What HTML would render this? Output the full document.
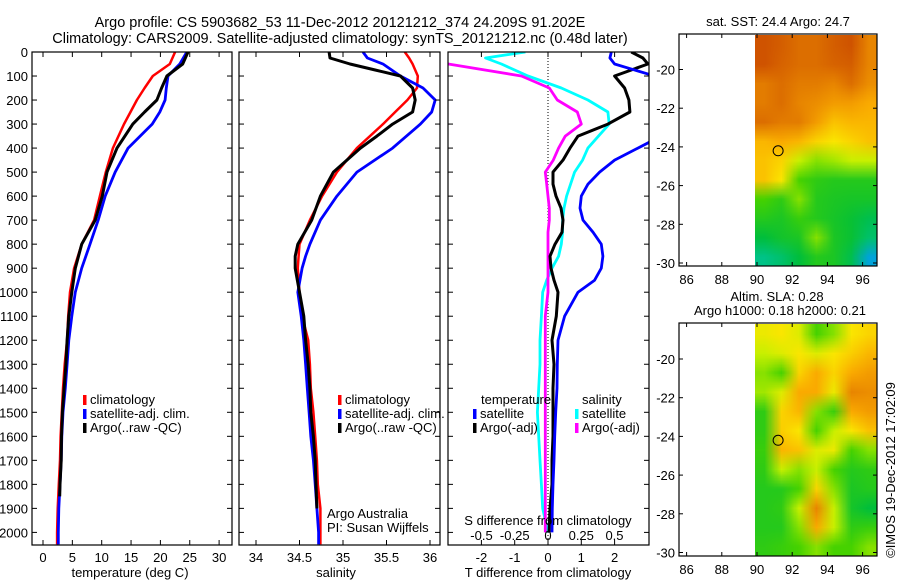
<!DOCTYPE html>
<html><head><meta charset="utf-8">
<style>
html,body{margin:0;padding:0;background:#fff;}
svg{display:block;font-family:"Liberation Sans",Arial,sans-serif;}
text{fill:#000;}
</style></head>
<body>
<svg id="fig" width="900" height="580" viewBox="0 0 900 580">
<text x="340" y="27" font-size="14.5" text-anchor="middle">Argo profile: CS 5903682_53 11-Dec-2012 20121212_374 24.209S 91.202E</text>
<text x="340" y="43" font-size="14.5" text-anchor="middle">Climatology: CARS2009. Satellite-adjusted climatology: synTS_20121212.nc (0.48d later)</text>
<g id="g1"></g>
<g id="g2"></g>
<g id="g3"></g>
<g id="gm"></g>
<text transform="translate(895,470) rotate(-90)" font-size="13" text-anchor="middle">©IMOS 19-Dec-2012 17:02:09</text>
</svg>
<script>
// ---- Temperature profile data ----
const tDepth = [0,50,100,150,200,250,300,400,500,600,700,800,900,1000,1100,1200,1300,1400,1500,1600,1700,1800,1900,2000,2050];
const tClim  = [22.5,21.6,18.7,17.3,16,14.9,13.8,11.9,10.7,9.7,8.7,6.6,5.3,4.6,4.3,4.1,3.7,3.4,3.2,3.0,2.9,2.7,2.5,2.4,2.4];
const tSat   = [24.5,23.3,21.3,21,20.8,19.9,18.6,14.5,12.3,10.6,9.4,8,6.6,5.5,4.9,4.4,4.1,3.8,3.4,3.2,3.1,2.9,2.7,2.6,2.6];
const tArgoDepth = [0,50,100,150,200,250,300,400,500,600,700,800,900,1000,1100,1200,1300,1400,1500,1600,1700,1800,1850];
const tArgo  = [24.7,23.8,21.1,20.2,19.4,17.3,15.3,12.6,10.9,10.1,8.9,6.6,5.5,4.9,4.4,4.1,3.9,3.6,3.3,3.15,3.1,2.9,2.85];
// ---- Salinity profile data ----
const sDepth = [0,25,50,75,100,150,200,250,300,350,400,500,600,700,800,850,900,1000,1100,1200,1300,1400,1500,1600,1700,1800,1900,2000,2050];
const sClim  = [35.71,35.76,35.8,35.83,35.86,35.85,35.74,35.6,35.46,35.31,35.16,34.93,34.76,34.62,34.5,34.49,34.48,34.5,34.53,34.6,34.62,34.63,34.66,34.68,34.7,34.71,34.74,34.74,34.74];
const sSat   = [35.23,35.28,35.46,35.56,35.66,35.92,36.06,36.02,35.89,35.73,35.57,35.16,34.93,34.74,34.62,34.57,34.53,34.48,34.52,34.55,34.57,34.59,34.61,34.63,34.66,34.68,34.7,34.72,34.72];
const sArgoDepth = [0,25,50,75,100,150,200,250,300,350,400,500,600,700,800,850,900,1000,1100,1200,1300,1400,1500,1600,1700,1800,1900];
const sArgo  = [34.84,34.85,35.08,35.37,35.66,35.8,35.83,35.8,35.57,35.39,35.2,34.89,34.74,34.64,34.48,34.45,34.45,34.5,34.55,34.57,34.6,34.62,34.63,34.66,34.68,34.69,34.7];
// ---- Difference data ----
const dDepth = [0,25,50,100,150,200,250,300,350,400,450,500,550,600,650,700,750,800,850,900,950,1000,1100,1200,1300,1400,1500,1600,1700,1800,1900,2000];
const dTSat  = [1.9,1.86,2.0,3.2,4,4,4,4,3.4,2.7,2.0,1.55,1.2,1.0,0.96,1.05,1.35,1.6,1.65,1.6,1.4,0.9,0.5,0.3,0.28,0.27,0.23,0.2,0.18,0.15,0.13,0.12];
const dTArgo = [2.5,2.85,3.0,2.0,2.3,2.43,2.46,1.8,0.9,0.66,0.45,0.15,0.15,0.24,0.39,0.45,0.42,0.21,0.06,0.09,0.18,0.3,0.25,0.12,0.18,0.15,0.15,0.15,0.12,0.12,0.06,0.03];
const dSSat  = [-0.17,-0.47,-0.35,-0.15,0.1,0.3,0.45,0.46,0.38,0.3,0.26,0.2,0.17,0.14,0.12,0.11,0.11,0.1,0.08,0.03,-0.01,-0.04,-0.05,-0.06,-0.06,-0.07,-0.08,-0.07,-0.06,-0.05,-0.04,0.0];
const dSArgo = [-0.9,-0.8,-0.75,-0.2,0.01,0.07,0.22,0.25,0.13,0.08,0.04,-0.02,-0.01,0,0.01,0.01,0,0,0,0,0,0,-0.02,-0.02,-0.02,-0.02,-0.02,-0.02,-0.02,-0.02,-0.02,-0.02];
const depthTicks = [0,100,200,300,400,500,600,700,800,900,1000,1100,1200,1300,1400,1500,1600,1700,1800,1900,2000];
const tTicks = [0,5,10,15,20,25,30];
const sTicks = [34,34.5,35,35.5,36];
const dtTicks = [-2,-1,0,1,2];
const dsTicks = [-0.5,-0.25,0,0.25,0.5];
const dsTickLabels = ["-0.5","-0.25","0","0.25","0.5"];
// ---- Map grids (colour index 0..1), rows north->south, cols 90..97E ----
const sstGrid = [
[0.9,0.88,0.85,0.85,0.88,0.9,0.8],
[0.9,0.87,0.85,0.85,0.87,0.88,0.8],
[0.82,0.85,0.82,0.82,0.8,0.85,0.78],
[0.82,0.85,0.8,0.78,0.75,0.75,0.72],
[0.85,0.82,0.82,0.75,0.68,0.7,0.7],
[0.7,0.72,0.7,0.65,0.62,0.65,0.68],
[0.68,0.65,0.55,0.5,0.52,0.55,0.55],
[0.68,0.62,0.45,0.4,0.38,0.38,0.38],
[0.45,0.4,0.5,0.38,0.36,0.35,0.35],
[0.38,0.36,0.42,0.38,0.35,0.32,0.28],
[0.3,0.34,0.36,0.5,0.36,0.32,0.25],
[0.22,0.25,0.3,0.38,0.36,0.28,0.1]];
const slaGrid = [
[0.6,0.62,0.58,0.45,0.5,0.62,0.65],
[0.55,0.58,0.62,0.58,0.62,0.66,0.7],
[0.5,0.45,0.65,0.72,0.65,0.72,0.75],
[0.52,0.58,0.72,0.72,0.6,0.8,0.78],
[0.4,0.65,0.7,0.5,0.42,0.72,0.75],
[0.4,0.66,0.62,0.45,0.55,0.62,0.68],
[0.42,0.7,0.68,0.58,0.6,0.45,0.5],
[0.4,0.55,0.5,0.55,0.45,0.38,0.4],
[0.38,0.38,0.45,0.65,0.5,0.36,0.38],
[0.38,0.4,0.55,0.8,0.55,0.35,0.3],
[0.38,0.38,0.5,0.72,0.55,0.4,0.42],
[0.4,0.42,0.45,0.5,0.45,0.45,0.5]];
const lonTicks = [86,88,90,92,94,96];
const latTicks = [-20,-22,-24,-26,-28,-30];
const argoLon = 91.2, argoLat = -24.2;

const NS="http://www.w3.org/2000/svg";
function mk(tag,attrs,parent){const e=document.createElementNS(NS,tag);for(const k in attrs)e.setAttribute(k,attrs[k]);parent.appendChild(e);return e;}
const y=d=>52+d*0.2402;
const TOP=52,BOT=545;

function frame(g,x0,x1,labels){
  const r=mk('rect',{x:x0,y:TOP,width:x1-x0,height:BOT-TOP,fill:'none',stroke:'#000','stroke-width':1.2},g);
  
  
  depthTicks.forEach(d=>{
    mk('line',{x1:x0,x2:x0+5,y1:y(d),y2:y(d),stroke:'#000'},g);
    mk('line',{x1:x1,x2:x1-5,y1:y(d),y2:y(d),stroke:'#000'},g);
    if(labels){const t=mk('text',{x:x0-4,y:y(d)+5,'font-size':13,'text-anchor':'end'},g);t.textContent=d;
      
      }
  });
}
function xTicks(g,vals,fx,ly,labs){
  vals.forEach((v,i)=>{const x=fx(v);
    mk('line',{x1:x,x2:x,y1:BOT,y2:BOT-5,stroke:'#000'},g);
    mk('line',{x1:x,x2:x,y1:TOP,y2:TOP+5,stroke:'#000'},g);
    const t=mk('text',{x:x,y:ly,'font-size':13,'text-anchor':'middle'},g);t.textContent=labs?labs[i]:v;
    
    });
}
function line(g,depths,vals,fx,color,w,name,clip){
  const p=depths.map((d,i)=>(i?'L':'M')+fx(vals[i]).toFixed(1)+','+y(d).toFixed(1)).join('');
  const e=mk('path',{d:p,fill:'none',stroke:color,'stroke-width':w,'stroke-linejoin':'round'},g);
  if(clip)e.setAttribute('clip-path','url(#'+clip+')');
  
  
}
function txt(g,x,yy,s,name,anchor,size){const t=mk('text',{x:x,y:yy,'font-size':size||13,'text-anchor':anchor||'start'},g);t.textContent=s;
  
  return t;}
function legend(g,x,yy,color,label){
  const r=mk('rect',{x:x,y:yy-9,width:3.5,height:10,fill:color},g);
  
  
  txt(g,x+7,yy,label,'legend-entry');
}
const svg=document.getElementById('fig');
const defs=mk('defs',{},svg);
[['c1',32,232],['c2',239,440],['c3',448,649]].forEach(c=>{const cp=mk('clipPath',{id:c[0]},defs);mk('rect',{x:c[1],y:TOP,width:c[2]-c[1],height:BOT-TOP},cp);});

// Panel 1
const g1=document.getElementById('g1');
const fT=v=>43+5.87*v;
line(g1,tDepth,tClim,fT,'#f00',2.5,'temp-climatology-line','c1');
line(g1,tDepth,tSat,fT,'#00f',2.8,'temp-satellite-line','c1');
line(g1,tArgoDepth,tArgo,fT,'#000',3,'temp-argo-line','c1');
frame(g1,32,232,true);
xTicks(g1,tTicks,fT,562);
txt(g1,130,577,'temperature (deg C)','x-axis-title','middle');
legend(g1,83,404,'#f00','climatology');legend(g1,83,418,'#00f','satellite-adj. clim.');legend(g1,83,432,'#000','Argo(..raw -QC)');

// Panel 2
const g2=document.getElementById('g2');
const fS=v=>256+87*(v-34);
line(g2,sDepth,sClim,fS,'#f00',2.5,'sal-climatology-line','c2');
line(g2,sDepth,sSat,fS,'#00f',2.8,'sal-satellite-line','c2');
line(g2,sArgoDepth,sArgo,fS,'#000',3,'sal-argo-line','c2');
frame(g2,239,440,false);
xTicks(g2,sTicks,fS,562);
txt(g2,336,577,'salinity','x-axis-title','middle');
legend(g2,338,404,'#f00','climatology');legend(g2,338,418,'#00f','satellite-adj. clim.');legend(g2,338,432,'#000','Argo(..raw -QC)');
txt(g2,327,518,'Argo Australia','credit-line');txt(g2,327,532,'PI: Susan Wijffels','credit-line');

// Panel 3
const g3=document.getElementById('g3');
const fDT=v=>548+33.3*v, fDS=v=>548+133*v;
const z=mk('line',{x1:548,x2:548,y1:TOP,y2:BOT,stroke:'#000','stroke-dasharray':'1,2'},g3);


line(g3,dDepth,dSSat,fDS,'#0ff',2.8,'sal-diff-satellite-line','c3');
line(g3,dDepth,dSArgo,fDS,'#f0f',2.8,'sal-diff-argo-line','c3');
line(g3,dDepth,dTArgo,fDT,'#000',3,'temp-diff-argo-line','c3');
line(g3,dDepth,dTSat,fDT,'#00f',2.8,'temp-diff-satellite-line','c3');
frame(g3,448,649,false);
xTicks(g3,dtTicks,fDT,562);
txt(g3,548,577,'T difference from climatology','x-axis-title','middle');
txt(g3,548,525,'S difference from climatology','s-axis-title','middle');
dsTicks.forEach((v,i)=>txt(g3,fDS(v),540,dsTickLabels[i],'s-tick-label','middle'));
txt(g3,481,404,'temperature','legend-title');txt(g3,582,404,'salinity','legend-title');
legend(g3,473,418,'#00f','satellite');legend(g3,473,432,'#000','Argo(-adj)');
legend(g3,575,418,'#0ff','satellite');legend(g3,575,432,'#f0f','Argo(-adj)');

// Maps
const stops=[[0,[0,90,255]],[0.15,[0,200,200]],[0.3,[0,190,60]],[0.45,[70,210,0]],[0.55,[200,240,0]],[0.62,[250,230,0]],[0.72,[250,170,0]],[0.85,[220,110,0]],[1,[180,30,0]]];
function cmap(v){for(let i=1;i<stops.length;i++){if(v<=stops[i][0]){const a=stops[i-1],b=stops[i],t=(v-a[0])/(b[0]-a[0]);return a[1].map((c,k)=>Math.round(c+(b[1][k]-c)*t));}}return stops[stops.length-1][1];}
const gm=document.getElementById('gm');
function map(top,bot,latY20,grid,name){
  const x0=679,x1=877;
  const fx=lon=>757+(lon-90)*17.6;
  const fy=lat=>latY20+(-20-lat)*19.35;
  const dx0=755,dy0=top+1;
  const fo=mk('foreignObject',{x:dx0,y:dy0,width:x1-dx0,height:bot-top-1},gm);
  const cv=document.createElement('canvas');cv.width=grid[0].length;cv.height=grid.length;
  cv.style.cssText='width:'+(x1-dx0)+'px;height:'+(bot-top-1)+'px;display:block';
  const ctx=cv.getContext('2d');
  grid.forEach((row,r)=>row.forEach((v,c)=>{const col=cmap(v);ctx.fillStyle='rgb('+col.join(',')+')';ctx.fillRect(c,r,1,1);}));
  fo.appendChild(cv);
  
  
  const r=mk('rect',{x:x0,y:top,width:x1-x0,height:bot-top,fill:'none',stroke:'#000','stroke-width':1.2},gm);
  
  
  lonTicks.forEach(l=>{const x=fx(l);mk('line',{x1:x,x2:x,y1:bot,y2:bot-4,stroke:'#000'},gm);mk('line',{x1:x,x2:x,y1:top,y2:top+4,stroke:'#000'},gm);
    txt(gm,x,bot+18,l,'lon-tick-label','middle');});
  latTicks.forEach(l=>{const yy=fy(l);mk('line',{x1:x0,x2:x0+4,y1:yy,y2:yy,stroke:'#000'},gm);mk('line',{x1:x1,x2:x1-4,y1:yy,y2:yy,stroke:'#000'},gm);
    txt(gm,x0-4,yy+5,l,'lat-tick-label','end');});
  const c=mk('circle',{cx:fx(argoLon),cy:fy(argoLat),r:5,fill:'none',stroke:'#000','stroke-width':1},gm);
  
  
}
map(34,266,69.5,sstGrid,'sst-map');
map(323,556,359,slaGrid,'sla-map');
txt(gm,778,26,'sat. SST: 24.4 Argo: 24.7','sst-map-title','middle');
txt(gm,777,301,'Altim. SLA: 0.28','sla-map-title','middle');
txt(gm,780,315,'Argo h1000: 0.18 h2000: 0.21','sla-map-subtitle','middle');
</script>
</body></html>
